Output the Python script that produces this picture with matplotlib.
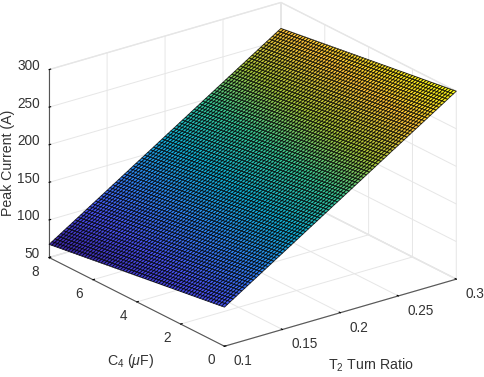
import matplotlib
matplotlib.use('Agg')
import matplotlib.pyplot as plt
from matplotlib.colors import LinearSegmentedColormap
from mpl_toolkits.mplot3d import proj3d
import numpy as np

plt.rcParams['font.family'] = ['Liberation Sans', 'DejaVu Sans']
plt.rcParams['mathtext.fontset'] = 'custom'
plt.rcParams['mathtext.rm'] = 'Liberation Sans'
plt.rcParams['mathtext.it'] = 'Liberation Sans:italic'

# sweep values along each side of the surface
t_ratio = [0.1000, 0.1025, 0.1050, 0.1075, 0.1100, 0.1125, 0.1150, 0.1175, 0.1200, 0.1225,
           0.1250, 0.1275, 0.1300, 0.1325, 0.1350, 0.1375, 0.1400, 0.1425, 0.1450, 0.1475,
           0.1500, 0.1525, 0.1550, 0.1575, 0.1600, 0.1625, 0.1650, 0.1675, 0.1700, 0.1725,
           0.1750, 0.1775, 0.1800, 0.1825, 0.1850, 0.1875, 0.1900, 0.1925, 0.1950, 0.1975,
           0.2000, 0.2025, 0.2050, 0.2075, 0.2100, 0.2125, 0.2150, 0.2175, 0.2200, 0.2225,
           0.2250, 0.2275, 0.2300, 0.2325, 0.2350, 0.2375, 0.2400, 0.2425, 0.2450, 0.2475,
           0.2500, 0.2525, 0.2550, 0.2575, 0.2600, 0.2625, 0.2650, 0.2675, 0.2700, 0.2725,
           0.2750, 0.2775, 0.2800, 0.2825, 0.2850, 0.2875, 0.2900, 0.2925, 0.2950, 0.2975,
           0.3000]
c4 = [0.000, 0.125, 0.250, 0.375, 0.500, 0.625, 0.750, 0.875, 1.000, 1.125,
      1.250, 1.375, 1.500, 1.625, 1.750, 1.875, 2.000, 2.125, 2.250, 2.375,
      2.500, 2.625, 2.750, 2.875, 3.000, 3.125, 3.250, 3.375, 3.500, 3.625,
      3.750, 3.875, 4.000, 4.125, 4.250, 4.375, 4.500, 4.625, 4.750, 4.875,
      5.000, 5.125, 5.250, 5.375, 5.500, 5.625, 5.750, 5.875, 6.000, 6.125,
      6.250, 6.375, 6.500, 6.625, 6.750, 6.875, 7.000, 7.125, 7.250, 7.375,
      7.500, 7.625, 7.750, 7.875, 8.000]

# peak current read along the C4 = 0 edge
peak_c0 = [102.0, 104.5, 107.0, 109.4, 111.9, 114.4, 116.9, 119.3, 121.8, 124.3,
           126.8, 129.2, 131.7, 134.2, 136.7, 139.1, 141.6, 144.1, 146.6, 149.0,
           151.5, 154.0, 156.5, 158.9, 161.4, 163.9, 166.4, 168.8, 171.3, 173.8,
           176.3, 178.7, 181.2, 183.7, 186.2, 188.6, 191.1, 193.6, 196.1, 198.5,
           201.0, 203.5, 206.0, 208.4, 210.9, 213.4, 215.9, 218.3, 220.8, 223.3,
           225.8, 228.2, 230.7, 233.2, 235.7, 238.1, 240.6, 243.1, 245.6, 248.0,
           250.5, 253.0, 255.5, 257.9, 260.4, 262.9, 265.4, 267.8, 270.3, 272.8,
           275.3, 277.7, 280.2, 282.7, 285.2, 287.6, 290.1, 292.6, 295.1, 297.5,
           300.0]
# drop in peak current going along the C4 direction
drop_c4 = [0.0, 0.5, 1.1, 1.6, 2.2, 2.7, 3.2, 3.8, 4.3, 4.9,
           5.4, 5.9, 6.5, 7.0, 7.5, 8.1, 8.6, 9.2, 9.7, 10.2,
           10.8, 11.3, 11.9, 12.4, 12.9, 13.5, 14.0, 14.6, 15.1, 15.6,
           16.2, 16.7, 17.3, 17.8, 18.3, 18.9, 19.4, 19.9, 20.5, 21.0,
           21.6, 22.1, 22.6, 23.2, 23.7, 24.3, 24.8, 25.3, 25.9, 26.4,
           27.0, 27.5, 28.0, 28.6, 29.1, 29.6, 30.2, 30.7, 31.3, 31.8,
           32.3, 32.9, 33.4, 34.0, 34.5]

x_ticks = [0.1, 0.15, 0.2, 0.25, 0.3]
x_labels = ['0.1', '0.15', '0.2', '0.25', '0.3']
y_ticks = [0, 2, 4, 6, 8]
z_ticks = [50, 100, 150, 200, 250, 300]

parula = LinearSegmentedColormap.from_list('parula', [
    (0.2422, 0.1504, 0.6603), (0.2810, 0.3228, 0.9579), (0.1786, 0.5289, 0.9682),
    (0.0689, 0.6948, 0.8394), (0.2161, 0.7843, 0.5923), (0.6720, 0.7793, 0.2227),
    (0.9970, 0.7659, 0.2199), (0.9769, 0.9839, 0.0805)])

X, Y = np.meshgrid(t_ratio, c4, indexing='ij')
Z = np.array(peak_c0)[:, None] - np.array(drop_c4)[None, :]

fig = plt.figure(figsize=(4.84, 3.77), dpi=100)
ax = fig.add_axes([0.0116, 0.024, 1, 1], projection='3d', proj_type='ortho')
ax.view_init(elev=22.5, azim=-127.1)
ax.set_box_aspect((1, 1, 0.70), zoom=1.181)
ax.patch.set_alpha(0)

surf = ax.plot_surface(X, Y, Z, rstride=1, cstride=1, cmap=parula, vmin=Z.min(), vmax=Z.max(),
                       edgecolor=(0, 0, 0, 0.8), linewidth=0.65, shade=False, antialiased=True)
surf.set_clip_on(False)

ax.set_xlim(0.1, 0.3, view_margin=0)
ax.set_ylim(0, 8, view_margin=0)
ax.set_zlim(50, 300, view_margin=0)
ax.set_xticks(x_ticks)
ax.set_yticks(y_ticks)
ax.set_zticks(z_ticks)
ax.set_xticklabels([])
ax.set_yticklabels([])
ax.set_zticklabels([])

for a in (ax.xaxis, ax.yaxis, ax.zaxis):
    a.set_pane_color((1, 1, 1, 1))
    a.pane.set_edgecolor('#e6e6e6')
    a._axinfo['grid']['color'] = '#e6e6e6'
    a._axinfo['grid']['linewidth'] = 0.7
    a.line.set_color('#555555')
    a.line.set_linewidth(0.8)
    a._axinfo['tick']['color'] = '#555555'
    a._axinfo['tick']['inward_factor'] = 0.0
    a._axinfo['tick']['outward_factor'] = 0.08


def tick_label(text, x, y, z, dx, dy, ha):
    # mplot3d tick labels only have pad, so put them on by hand next to the tick
    px, py, _ = proj3d.proj_transform(x, y, z, ax.get_proj())
    ax.annotate(text, (px, py), xytext=(dx, dy), textcoords='offset pixels', fontsize=9.8,
                color='#333333', ha=ha, va='center', annotation_clip=False)


for tick, lab in zip(x_ticks, x_labels):
    tick_label(lab, tick, 0, 50, 9, -15, 'left')
for tick in y_ticks:
    tick_label(str(tick), 0.1, tick, 50, -13.5, -14, 'center')
for tick in z_ticks:
    tick_label(str(tick), 0.1, 8, tick, -9.5, 3.5, 'right')

fig.text(0.766, 0.03, r'T$_{\mathrm{2}}$ Turn Ratio', fontsize=10.2, color='#333333', ha='center', va='center')
fig.text(0.27, 0.043, r'C$_{\mathrm{4}}$ ($\mu$F)', fontsize=10.2, color='#333333', ha='center', va='center')
fig.text(0.017, 0.568, 'Peak Current (A)', fontsize=10.2, color='#333333', ha='center', va='center', rotation=90)

fig.savefig('out.png', dpi=100)
